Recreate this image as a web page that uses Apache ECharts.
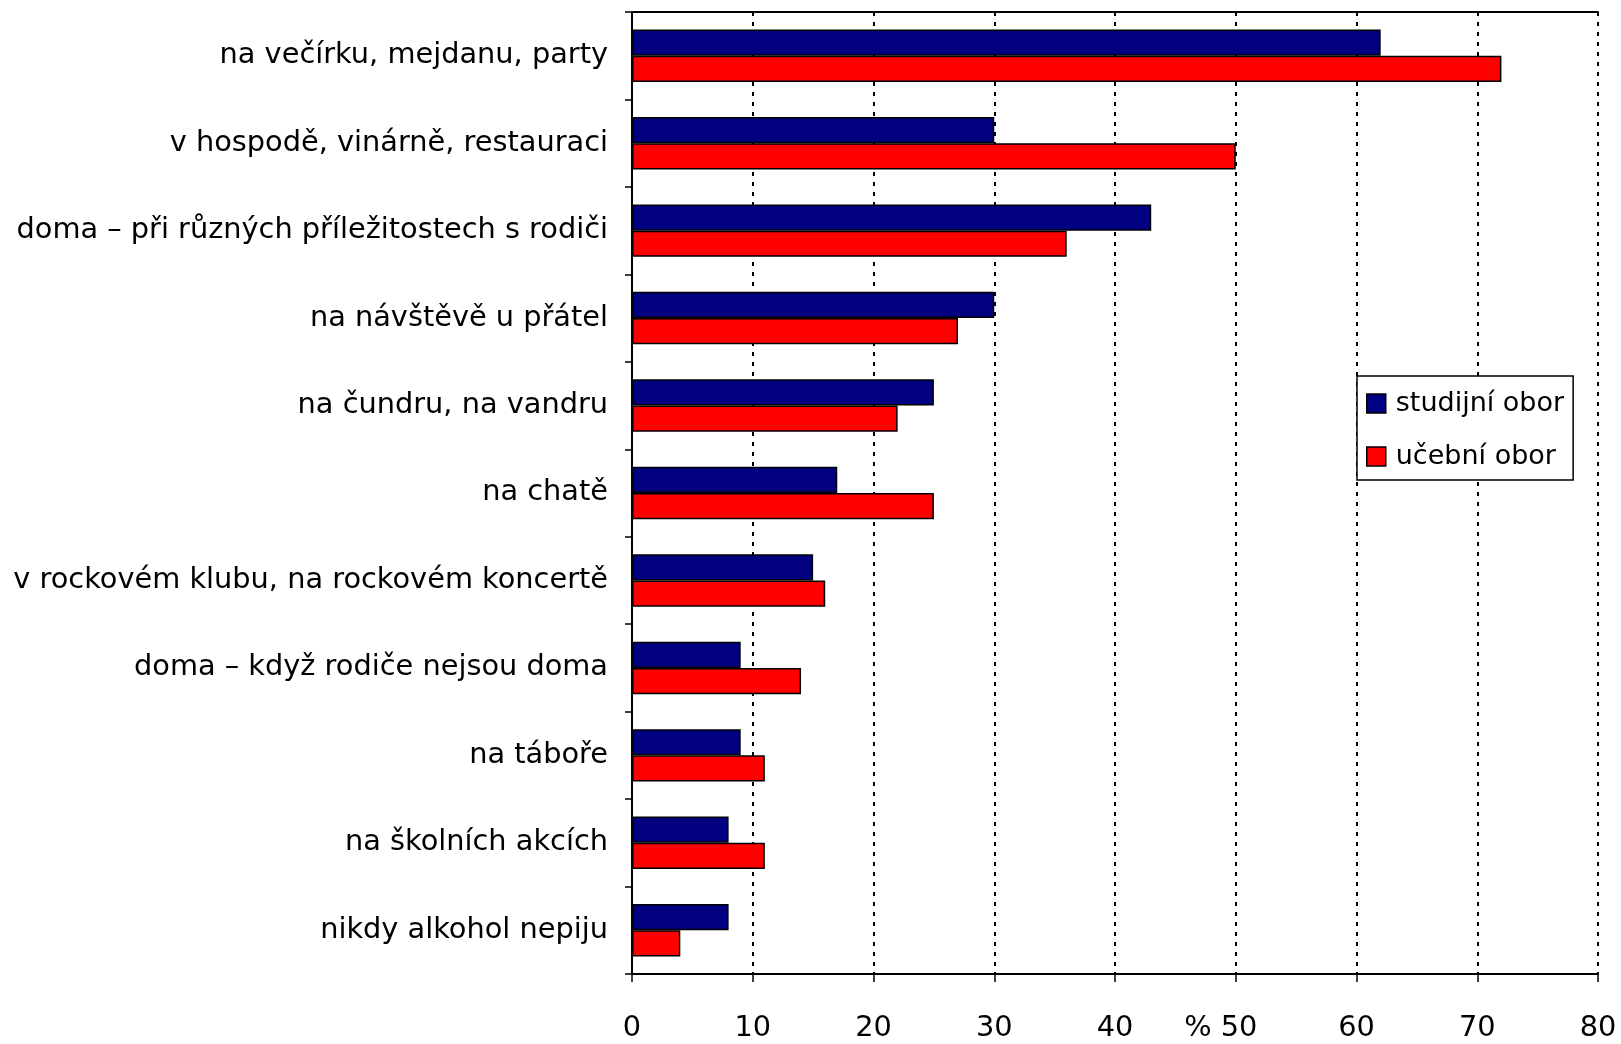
<!DOCTYPE html>
<html>
<head>
<meta charset="utf-8">
<script src="https://cdn.jsdelivr.net/npm/echarts@6/dist/echarts.min.js"></script>
<style>
html,body{margin:0;padding:0;background:#fff;}
#chart{width:1621px;height:1044px;}
</style>
</head>
<body>
<div id="chart"></div>
<script>
const categories = [
  'na večírku, mejdanu, party',
  'v hospodě, vinárně, restauraci',
  'doma – při různých příležitostech s rodiči',
  'na návštěvě u přátel',
  'na čundru, na vandru',
  'na chatě',
  'v rockovém klubu, na rockovém koncertě',
  'doma – když rodiče nejsou doma',
  'na táboře',
  'na školních akcích',
  'nikdy alkohol nepiju'
];
const studijni = [62, 30, 43, 30, 25, 17, 15, 9, 9, 8, 8];
const ucebni = [72, 50, 36, 27, 22, 25, 16, 14, 11, 11, 4];
const seriesNames = ['studijní obor', 'učební obor'];
const xTicks = [0, 10, 20, 30, 40, 50, 60, 70, 80];

const FONT = 'DejaVu Sans';
const FS = 28.8;
const chart = echarts.init(document.getElementById('chart'));
chart.setOption({
  animation: false,
  backgroundColor: '#fff',
  textStyle: {fontFamily: FONT},
  grid: {left: 632, right: 23, top: 12, bottom: 70, containLabel: false},
  legend: {
    data: seriesNames,
    orient: 'vertical',
    left: 1357, top: 376,
    backgroundColor: '#fff',
    borderColor: '#000', borderWidth: 1.5,
    padding: [14, 9, 10, 9],
    itemGap: 26,
    itemWidth: 19, itemHeight: 19,
    icon: 'rect',
    itemStyle: {borderColor: '#000', borderWidth: 1.5},
    textStyle: {fontFamily: FONT, fontSize: 27, color: '#000', padding: [0,0,0,5]}
  },
  xAxis: [{
    type: 'value', min: xTicks[0], max: xTicks[xTicks.length-1], interval: 10,
    position: 'bottom',
    axisLine: {show: true, lineStyle: {color: '#000', width: 2}},
    axisTick: {show: true, length: 8, lineStyle: {color: '#000', width: 1.5}},
    axisLabel: {
      fontFamily: FONT, fontSize: FS, color: '#000', margin: 40,
      formatter: v => v === 50 ? '{p|%} 50{pad|}' : String(v),
      rich: {p: {fontFamily: FONT, fontSize: FS, color: '#000'}, pad: {width: 30}}
    },
    splitLine: {show: true, lineStyle: {color: '#000', type: [4, 6], width: 2}}
  }, {
    type: 'value', min: 0, max: 80, interval: 10, position: 'top',
    axisLine: {show: true, lineStyle: {color: '#000', width: 2}},
    axisTick: {show: false}, axisLabel: {show: false}, splitLine: {show: false}
  }],
  yAxis: {
    type: 'category', data: categories, inverse: true,
    axisLine: {show: true, lineStyle: {color: '#000', width: 2}},
    axisTick: {show: true, length: 7, lineStyle: {color: '#000', width: 1.5}},
    axisLabel: {fontFamily: FONT, fontSize: FS, color: '#000', margin: 24}
  },
  series: [{
    name: seriesNames[0], type: 'bar', data: studijni, xAxisIndex: 0,
    barGap: '0%', barCategoryGap: '40%',
    itemStyle: {color: '#000080', borderColor: '#000', borderWidth: 1.5}
  }, {
    name: seriesNames[1], type: 'bar', data: ucebni, xAxisIndex: 0,
    barGap: '0%', barCategoryGap: '40%',
    itemStyle: {color: '#ff0000', borderColor: '#000', borderWidth: 1.5}
  }]
});
</script>
</body>
</html>
